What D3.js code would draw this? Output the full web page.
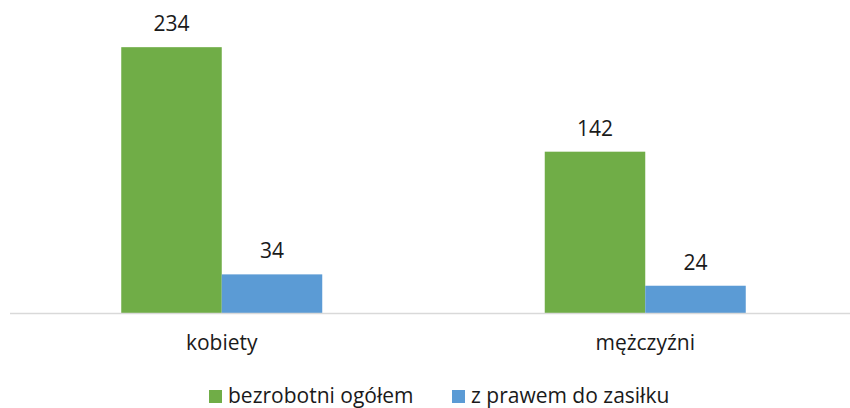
<!DOCTYPE html>
<html>
<head>
<meta charset="utf-8">
<script src="https://cdn.jsdelivr.net/npm/d3@7"></script>
<style>
  body { margin: 0; background: #fff; }
  text { font-family: "Open Sans", "Noto Sans", sans-serif; fill: #1a1a1a; }
</style>
</head>
<body>
<div id="chart"></div>
<script>
var categories = ['kobiety', 'mężczyźni'];
var seriesNames = ['bezrobotni ogółem', 'z prawem do zasiłku'];
var totalValues = [234, 142];
var benefitValues = [34, 24];
var colors = ['#70AD47', '#5B9BD5'];

var width = 850, height = 408;
var baseline = 313;
var fontSize = '21px';

var svg = d3.select('#chart').append('svg')
    .attr('width', width)
    .attr('height', height);

var x0 = d3.scaleBand().domain(categories).range([10, 857]);
var x1 = d3.scaleBand().domain(seriesNames).range([0, 201]);
var y = d3.scaleLinear().domain([0, 250]).range([baseline, 29]);

var rows = categories.map(function(c, i) {
  return [
    { cat: c, s: seriesNames[0], v: totalValues[i], color: colors[0] },
    { cat: c, s: seriesNames[1], v: benefitValues[i], color: colors[1] }
  ];
});

var groups = svg.selectAll('g.cat').data(rows).enter()
  .append('g')
  .attr('class', 'cat')
  .attr('transform', function(d) {
    return 'translate(' + (x0(d[0].cat) + (x0.bandwidth() - 201) / 2) + ',0)';
  });

groups.selectAll('rect').data(function(d) { return d; }).enter()
  .append('rect')
  .attr('x', function(d) { return x1(d.s); })
  .attr('y', function(d) { return y(d.v); })
  .attr('width', x1.bandwidth())
  .attr('height', function(d) { return baseline - y(d.v); })
  .attr('fill', function(d) { return d.color; });

groups.selectAll('text.val').data(function(d) { return d; }).enter()
  .append('text')
  .attr('class', 'val')
  .attr('x', function(d) { return x1(d.s) + x1.bandwidth() / 2; })
  .attr('y', function(d) { return y(d.v) - 16; })
  .attr('text-anchor', 'middle')
  .style('font-size', fontSize)
  .text(function(d) { return d.v; });

// axis line
svg.append('line')
  .attr('x1', 10).attr('x2', 850)
  .attr('y1', baseline + 0.5).attr('y2', baseline + 0.5)
  .attr('stroke', '#d9d9d9')
  .attr('stroke-width', 1.5);

svg.selectAll('text.cat').data(categories).enter()
  .append('text')
  .attr('class', 'cat')
  .attr('x', function(d) { return x0(d) + x0.bandwidth() / 2; })
  .attr('y', 350)
  .attr('text-anchor', 'middle')
  .style('font-size', fontSize)
  .text(function(d) { return d; });

// legend
var legendX = [209, 452];
var legend = svg.selectAll('g.leg').data(seriesNames).enter()
  .append('g')
  .attr('class', 'leg')
  .attr('transform', function(d, i) { return 'translate(' + legendX[i] + ',390)'; });
legend.append('rect')
  .attr('width', 13).attr('height', 13)
  .attr('fill', function(d, i) { return colors[i]; });
legend.append('text')
  .attr('x', 19).attr('y', 13)
  .style('font-size', fontSize)
  .text(function(d) { return d; });
</script>
</body>
</html>
